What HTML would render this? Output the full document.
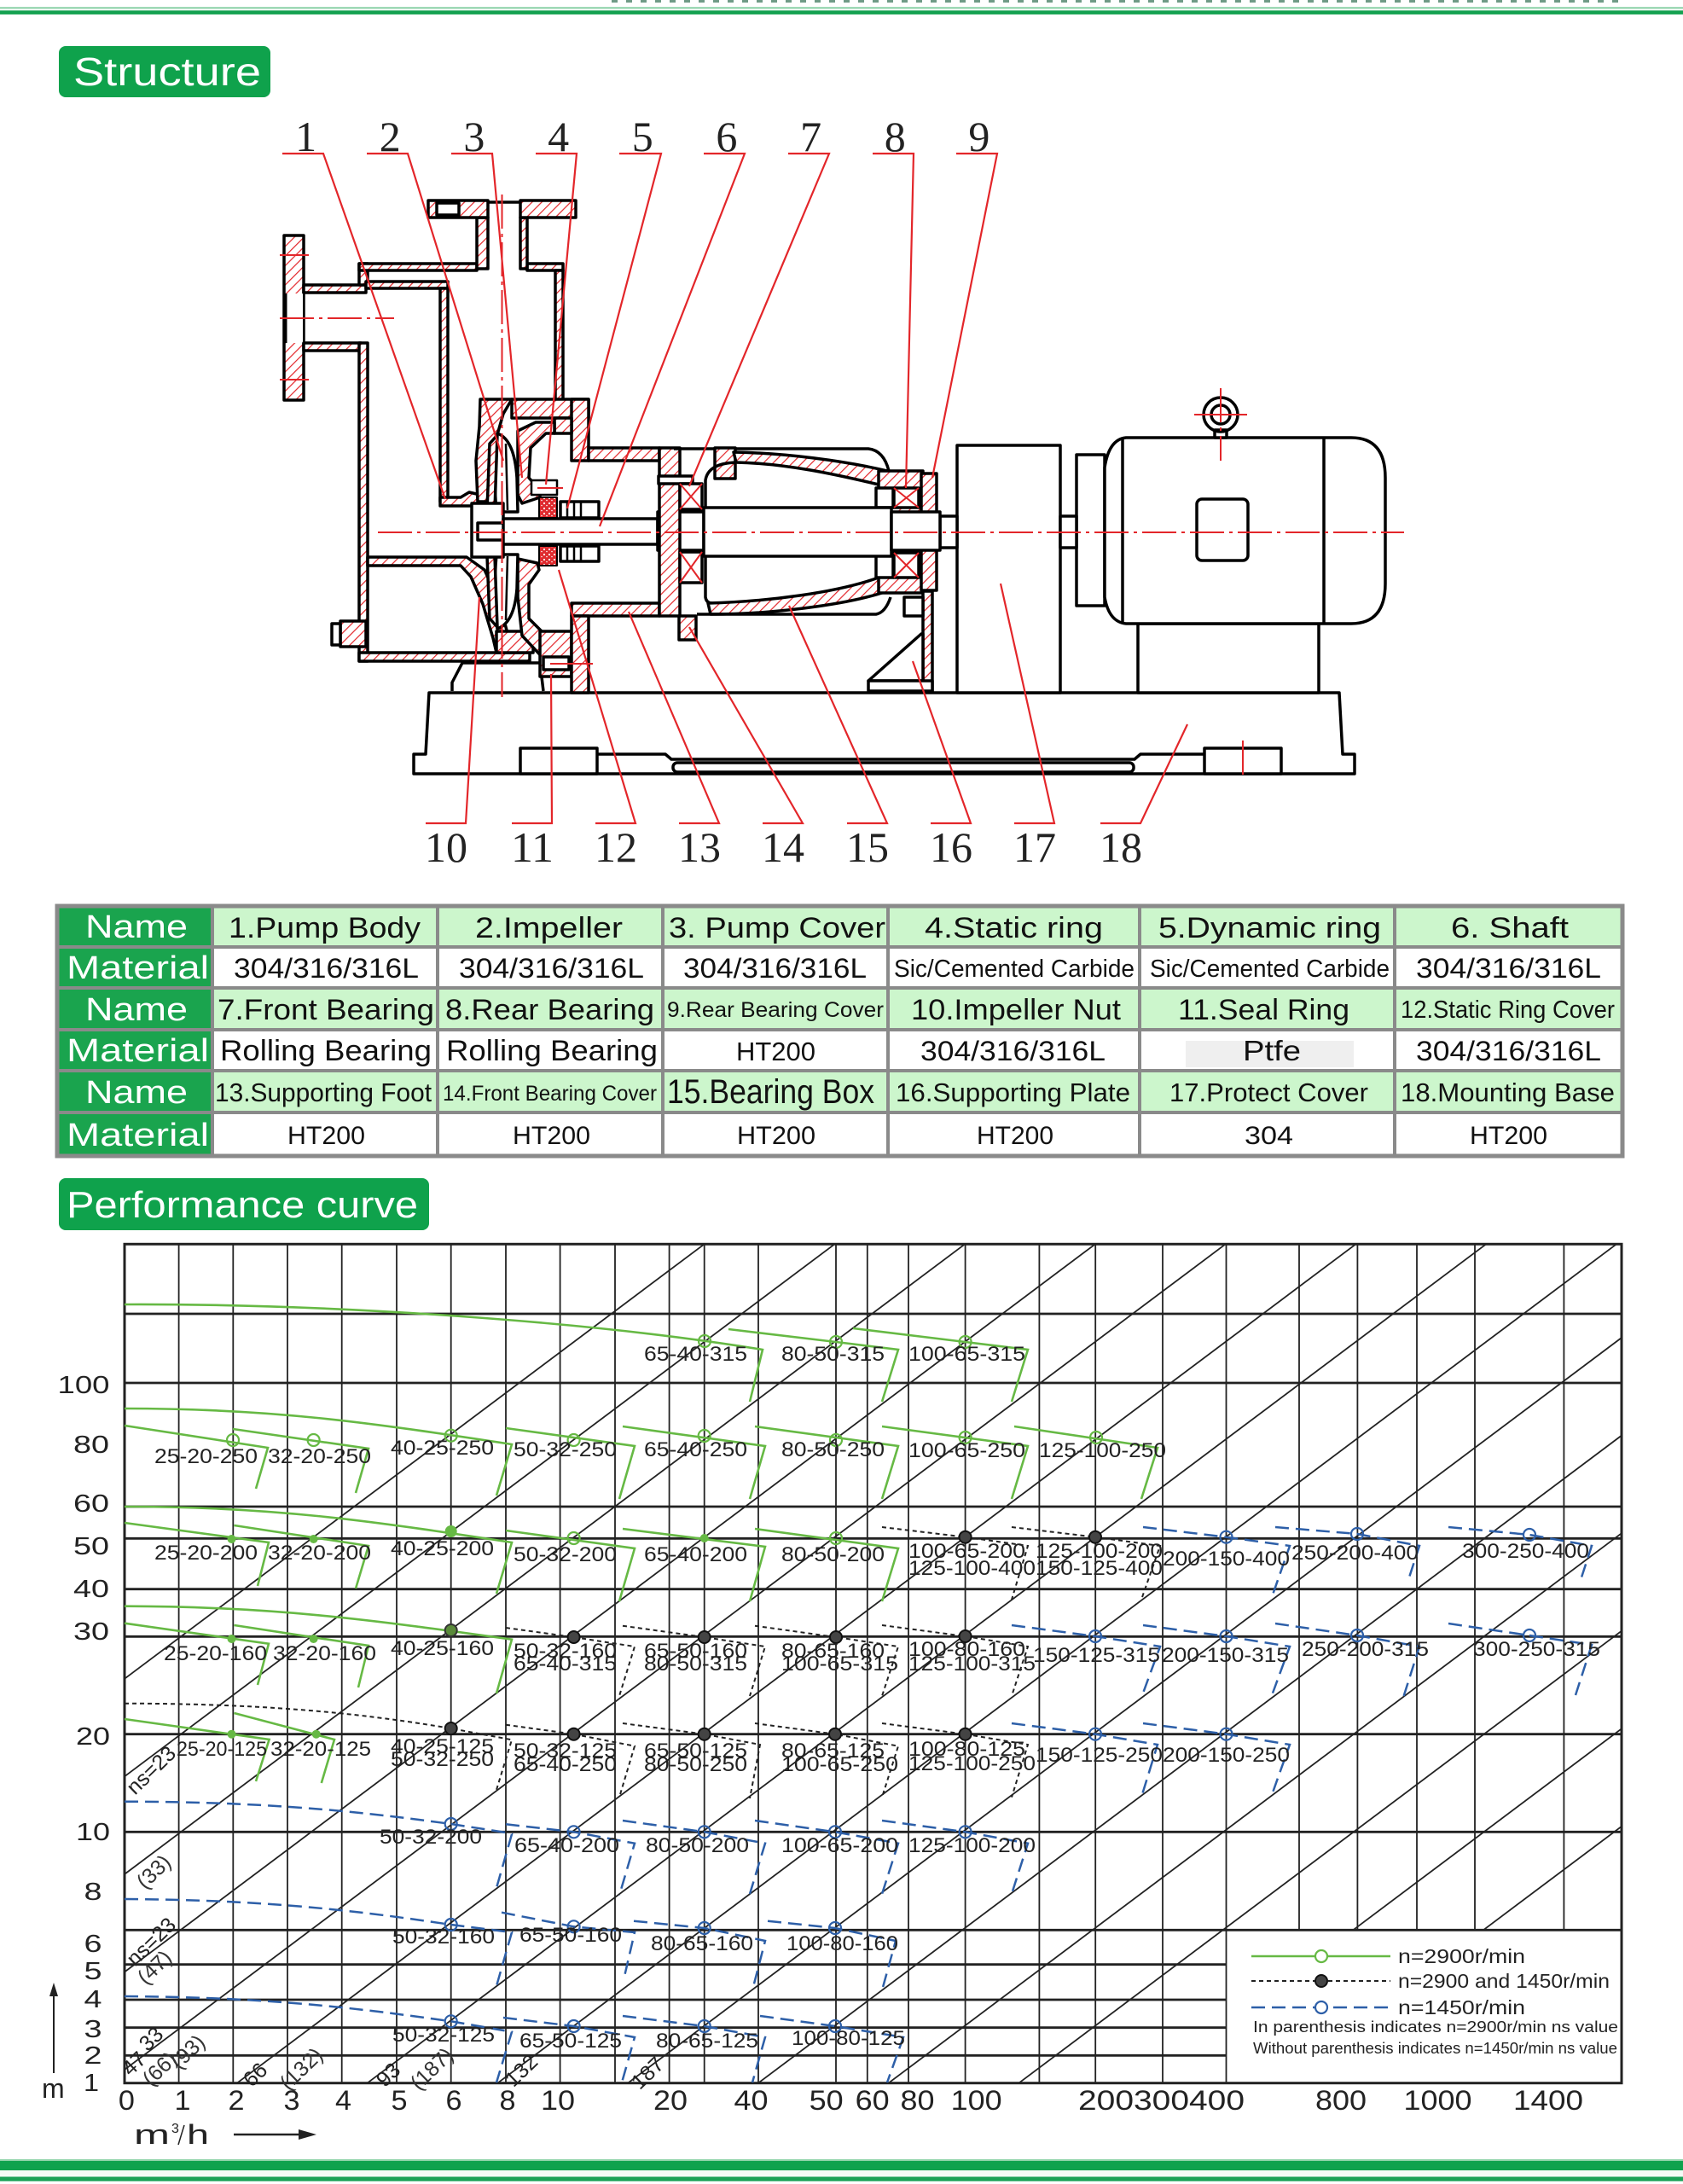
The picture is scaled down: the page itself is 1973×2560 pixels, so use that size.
<!DOCTYPE html>
<html><head><meta charset="utf-8"><title>Structure and Performance curve</title>
<style>
html,body{margin:0;padding:0;background:#fff;}
svg{display:block;}
.t{font-family:"Liberation Sans",Arial,sans-serif;}
.s{font-family:"Liberation Serif","Times New Roman",serif;}
</style></head>
<body>
<svg xmlns="http://www.w3.org/2000/svg" width="1973" height="2560" viewBox="0 0 1973 2560">
<defs>
<pattern id="hat" patternUnits="userSpaceOnUse" width="8" height="8" patternTransform="rotate(45)">
<rect width="8" height="8" fill="#fff"/><line x1="0" y1="0" x2="0" y2="8" stroke="#e3262a" stroke-width="2.4"/></pattern>
<pattern id="sp" patternUnits="userSpaceOnUse" width="6" height="6">
<rect width="6" height="6" fill="#de2a2e"/><circle cx="2" cy="2" r="1.1" fill="#fff"/><circle cx="5" cy="4.5" r="0.8" fill="#fff"/></pattern>
</defs>

<!-- header lines -->
<line x1="717" y1="1.5" x2="1906" y2="1.5" stroke="#6f9a86" stroke-width="3" stroke-dasharray="7 10"/>
<rect x="0" y="8" width="1973" height="2.6" fill="#9fd9b6"/>
<rect x="0" y="12.3" width="1973" height="4.6" fill="#13a150"/>

<!-- Structure label -->
<rect x="69" y="54" width="248" height="60" rx="8" fill="#0fa24c"/>
<text class="t" x="86" y="100" font-size="46" fill="#fff" textLength="220" lengthAdjust="spacingAndGlyphs">Structure</text>

<!-- ================= PUMP DRAWING ================= -->
<g stroke="#000" stroke-width="3.5" fill="none" stroke-linejoin="round">
<!-- base -->
<path d="M503 812 L1570 812 L1574 884 L1588 884 L1588 907 L485 907 L485 884 L499 884 Z" fill="#fff"/>
<rect x="610" y="877" width="90" height="30" fill="#fff"/>
<rect x="1412" y="877" width="90" height="30" fill="#fff"/>
<path d="M700 884 L780 884 L787 890 L1330 890 L1337 884 L1412 884"/>
<rect x="789" y="894" width="540" height="11" rx="5"/>
<!-- motor foot -->
<rect x="1334" y="731" width="212" height="81" fill="#fff"/>
<!-- motor -->
<rect x="1262" y="533" width="33" height="177" fill="#fff"/>
<path d="M1295 548 Q1300 515 1320 513 L1584 513 Q1624 513 1624 560 L1624 684 Q1624 731 1584 731 L1320 731 Q1300 729 1295 700 Z" fill="#fff"/>
<line x1="1316" y1="513" x2="1316" y2="731"/>
<line x1="1552" y1="513" x2="1552" y2="731"/>
<rect x="1403" y="585" width="60" height="72" rx="6"/>
<rect x="1424" y="504" width="14" height="9" fill="#fff"/>
<circle cx="1431" cy="486" r="20"/>
<circle cx="1431" cy="486" r="11"/>
<!-- protect cover -->
<rect x="1122" y="522" width="121" height="290" fill="#fff"/>
<rect x="1243" y="605" width="19" height="37" fill="#fff"/>
<rect x="1102" y="605" width="20" height="37" fill="#fff"/>

<!-- inlet flange -->
<rect x="333" y="276" width="23" height="193" fill="url(#hat)"/>
<rect x="335" y="344" width="20" height="58" fill="#fff" stroke="none"/>
<line x1="334" y1="344" x2="334" y2="402" stroke-width="5"/>
<!-- inlet pipe walls -->
<rect x="356" y="334" width="73" height="9" fill="url(#hat)"/>
<rect x="356" y="402" width="67" height="9" fill="url(#hat)"/>
<!-- casing walls -->
<rect x="421" y="309" width="10" height="25" fill="url(#hat)"/>
<rect x="421" y="402" width="10" height="373" fill="url(#hat)"/>
<rect x="421" y="309" width="138" height="8" fill="url(#hat)"/>
<rect x="618" y="309" width="42" height="8" fill="url(#hat)"/>
<rect x="651" y="317" width="9" height="152" fill="url(#hat)"/>
<!-- discharge -->
<rect x="559" y="255" width="13" height="60" fill="url(#hat)"/>
<rect x="610" y="255" width="8" height="60" fill="url(#hat)"/>
<rect x="502" y="235" width="70" height="20" fill="url(#hat)"/>
<rect x="610" y="235" width="65" height="20" fill="url(#hat)"/>
<rect x="512" y="238" width="26" height="14" fill="#fff"/>
<line x1="572" y1="237" x2="610" y2="237"/>
<!-- separator -->
<rect x="429" y="330" width="96" height="8" fill="url(#hat)"/>
<rect x="516" y="338" width="9" height="250" fill="url(#hat)"/>
<path d="M516 583 L540 583 L550 577 L563 580 L563 593 L516 593 Z" fill="url(#hat)"/>
<!-- lower chamber -->
<rect x="421" y="765" width="200" height="10" fill="url(#hat)"/>
<path d="M431 653 L547 653 L568 668 L585 705 L597 750 L600 765 L582 765 L578 748 L566 708 L552 676 L540 663 L431 663 Z" fill="url(#hat)"/>
<path d="M582 740 L625 740 L625 765 L582 765 Z" fill="url(#hat)"/>
<rect x="399" y="728" width="30" height="30" fill="url(#hat)"/>
<rect x="389" y="731" width="10" height="25" fill="#fff"/>
<!-- volute tongue & cover top -->
<path d="M563 468 L600 468 L590 485 L580 520 L575 560 L571 588 L560 588 L558 540 L562 500 Z" fill="url(#hat)"/>
<rect x="600" y="468" width="90" height="22" fill="url(#hat)"/>
<rect x="670" y="468" width="20" height="72" fill="url(#hat)"/>
<rect x="650" y="490" width="20" height="18" fill="url(#hat)"/>
<!-- pump cover (12) -->
<path d="M607 505 L628 495 L650 495 L650 508 L640 508 L622 525 L620 560 L633 575 L633 583 L612 590 L607 580 Z" fill="url(#hat)"/>
<path d="M607 655 L630 660 L632 668 L620 685 L620 725 L640 745 L665 748 L665 775 L640 775 L612 745 L607 700 Z" fill="url(#hat)"/>
<!-- impeller -->
<path d="M583 508 Q603 515 606 560 L607 600 L582 600 Q578 555 583 508 Z" fill="#fff"/>
<path d="M583 737 Q603 730 606 690 L607 650 L582 650 Q578 695 583 737 Z" fill="#fff"/>
<path d="M574 520 L583 510 L580 598 L571 598 Z" fill="url(#hat)"/>
<path d="M574 725 L583 735 L580 652 L571 652 Z" fill="url(#hat)"/>
<line x1="593" y1="520" x2="595" y2="598" stroke-width="2.5"/>
<line x1="593" y1="727" x2="595" y2="652" stroke-width="2.5"/>
<!-- hub, nut, shaft -->
<rect x="553" y="590" width="37" height="63" fill="#fff"/>
<rect x="560" y="613" width="33" height="20" fill="#fff"/>
<rect x="590" y="608" width="181" height="30" fill="#fff"/>
<rect x="771" y="600" width="54" height="45" fill="#fff"/>
<!-- seals -->
<rect x="623" y="563" width="30" height="17" fill="#fff" stroke-width="2.5"/>
<rect x="632" y="583" width="21" height="24" fill="url(#sp)" stroke-width="2"/>
<rect x="632" y="640" width="21" height="23" fill="url(#sp)" stroke-width="2"/>
<rect x="657" y="588" width="45" height="19" fill="#fff"/>
<rect x="657" y="640" width="45" height="18" fill="#fff"/>
<path d="M665 588 V607 M673 588 V607 M681 588 V607 M665 640 V658 M673 640 V658 M681 640 V658" stroke-width="2.5"/>
<!-- pump foot -->
<path d="M530 810 L530 800 L542 777 L633 777 L637 810" fill="#fff"/>
<rect x="633" y="740" width="37" height="53" fill="url(#hat)"/>
<rect x="637" y="770" width="30" height="15" fill="#fff"/>
<!-- bracket -->
<rect x="690" y="525" width="83" height="15" fill="url(#hat)"/>
<rect x="670" y="707" width="103" height="15" fill="url(#hat)"/>
<rect x="670" y="722" width="20" height="90" fill="url(#hat)"/>
<rect x="773" y="525" width="24" height="197" fill="url(#hat)"/>
<rect x="772" y="558" width="40" height="9" fill="#fff"/>
<rect x="796" y="722" width="20" height="28" fill="url(#hat)"/>
<!-- bearing box -->
<path d="M790 526 L1018 526 Q1036 528 1042 552"/>
<rect x="838" y="525" width="24" height="36" fill="url(#hat)"/>
<path d="M860 530 C920 531 990 540 1040 552 L1030 568 C980 556 920 543 863 542 Z" fill="url(#hat)"/>
<path d="M863 542 Q830 543 827 563 L827 700 Q828 707 835 707"/>
<path d="M830 707 C900 705 980 695 1030 677 L1040 693 C990 710 900 720 833 720 Z" fill="url(#hat)"/>
<path d="M817 720 L1027 720 Q1038 718 1044 700"/>
<rect x="1030" y="552" width="52" height="143" fill="url(#hat)"/>
<rect x="1080" y="555" width="18" height="137" fill="url(#hat)"/>
<rect x="1027" y="572" width="20" height="23" fill="#fff"/>
<rect x="1027" y="648" width="20" height="29" fill="#fff"/>
<rect x="1048" y="572" width="29" height="23" fill="#fff"/>
<rect x="1048" y="648" width="29" height="29" fill="#fff"/>
<rect x="797" y="567" width="26" height="30" fill="#fff"/>
<rect x="797" y="647" width="26" height="36" fill="#fff"/>
<rect x="825" y="595" width="220" height="57" fill="#fff"/>
<rect x="1045" y="600" width="57" height="45" fill="#fff"/>
<!-- support plate -->
<rect x="1082" y="693" width="11" height="117" fill="url(#hat)"/>
<path d="M1018 798 L1080 743 L1082 743 L1082 798 Z" fill="#fff"/>
<rect x="1018" y="798" width="75" height="12" fill="#fff"/>
<rect x="1060" y="700" width="22" height="22" fill="#fff"/>
</g>
<!-- bearing X marks -->
<g stroke="#e3262a" stroke-width="2">
<path d="M1048 572 L1077 595 M1077 572 L1048 595 M1048 648 L1077 677 M1077 648 L1048 677"/>
<path d="M797 567 L823 597 M823 567 L797 597 M797 647 L823 683 M823 647 L797 683"/>
<path d="M328 299 H362 M328 445 H362 M1400 486 H1462 M630 572 H660 M645 778 H695"/>
</g>
<!-- centerlines -->
<g stroke="#e3262a" stroke-width="2" stroke-dasharray="40 6 4 6" fill="none">
<line x1="443" y1="624" x2="1646" y2="624"/>
<line x1="328" y1="373" x2="462" y2="373"/>
<line x1="588.5" y1="228" x2="588.5" y2="817"/>
<line x1="1431" y1="455" x2="1431" y2="540"/>
<line x1="1457" y1="868" x2="1457" y2="910"/>
</g>
<!-- leaders -->
<g stroke="#e3262a" stroke-width="2.2" fill="none">
<path d="M331 180 H379 L522 585"/>
<path d="M430 180 H478 L590 540"/>
<path d="M529 180 H577 L612 560"/>
<path d="M628 180 H676 L640 568"/>
<path d="M726 180 H775 L665 596"/>
<path d="M825 180 H873 L703 617"/>
<path d="M924 180 H972 L808 570"/>
<path d="M1023 180 H1071 L1062 572"/>
<path d="M1121 180 H1169 L1093 560"/>
<path d="M499 965 H546 L562 700"/>
<path d="M600 965 H647 L646 790"/>
<path d="M698 965 H745 L655 668"/>
<path d="M796 965 H843 L737 717"/>
<path d="M894 965 H941 L808 735"/>
<path d="M993 965 H1040 L925 710"/>
<path d="M1091 965 H1138 L1070 775"/>
<path d="M1189 965 H1236 L1173 684"/>
<path d="M1290 965 H1337 L1392 849"/>
</g>
<g class="s" font-size="50" fill="#222" text-anchor="middle">
<text x="358.6" y="177" textLength="25" lengthAdjust="spacingAndGlyphs">1</text>
<text x="457.3" y="177" textLength="25" lengthAdjust="spacingAndGlyphs">2</text>
<text x="555.9" y="177" textLength="25" lengthAdjust="spacingAndGlyphs">3</text>
<text x="654.6" y="177" textLength="25" lengthAdjust="spacingAndGlyphs">4</text>
<text x="753.2" y="177" textLength="25" lengthAdjust="spacingAndGlyphs">5</text>
<text x="851.9" y="177" textLength="25" lengthAdjust="spacingAndGlyphs">6</text>
<text x="950.6" y="177" textLength="25" lengthAdjust="spacingAndGlyphs">7</text>
<text x="1049.2" y="177" textLength="25" lengthAdjust="spacingAndGlyphs">8</text>
<text x="1147.9" y="177" textLength="25" lengthAdjust="spacingAndGlyphs">9</text>
<text x="523" y="1010" textLength="50" lengthAdjust="spacingAndGlyphs">10</text>
<text x="624" y="1010" textLength="50" lengthAdjust="spacingAndGlyphs">11</text>
<text x="722" y="1010" textLength="50" lengthAdjust="spacingAndGlyphs">12</text>
<text x="820" y="1010" textLength="50" lengthAdjust="spacingAndGlyphs">13</text>
<text x="918" y="1010" textLength="50" lengthAdjust="spacingAndGlyphs">14</text>
<text x="1017" y="1010" textLength="50" lengthAdjust="spacingAndGlyphs">15</text>
<text x="1115" y="1010" textLength="50" lengthAdjust="spacingAndGlyphs">16</text>
<text x="1213" y="1010" textLength="50" lengthAdjust="spacingAndGlyphs">17</text>
<text x="1314" y="1010" textLength="50" lengthAdjust="spacingAndGlyphs">18</text>
</g>

<!-- ================= TABLE ================= -->
<g>
<rect x="67" y="1062" width="182" height="293" fill="#1aa44e"/>
<rect x="249" y="1062" width="1653" height="48" fill="#ccf6cc"/>
<rect x="249" y="1110" width="1653" height="48" fill="#fff"/>
<rect x="249" y="1158" width="1653" height="49" fill="#ccf6cc"/>
<rect x="249" y="1207" width="1653" height="48" fill="#fff"/>
<rect x="249" y="1255" width="1653" height="49" fill="#ccf6cc"/>
<rect x="249" y="1304" width="1653" height="51" fill="#fff"/>
<rect x="1390" y="1220" width="197" height="31" fill="#efefef"/>
<g stroke="#8a8a8a" stroke-width="4">
<line x1="67" y1="1110" x2="1902" y2="1110"/>
<line x1="67" y1="1158" x2="1902" y2="1158"/>
<line x1="67" y1="1207" x2="1902" y2="1207"/>
<line x1="67" y1="1255" x2="1902" y2="1255"/>
<line x1="67" y1="1304" x2="1902" y2="1304"/>
<line x1="249" y1="1062" x2="249" y2="1355"/>
<line x1="513" y1="1062" x2="513" y2="1355"/>
<line x1="777" y1="1062" x2="777" y2="1355"/>
<line x1="1041" y1="1062" x2="1041" y2="1355"/>
<line x1="1336" y1="1062" x2="1336" y2="1355"/>
<line x1="1635" y1="1062" x2="1635" y2="1355"/>
<rect x="67" y="1062" width="1835" height="293" fill="none" stroke-width="5"/>
</g>
<g class="t" fill="#fff" font-size="38">
<text x="100" y="1099" textLength="120" lengthAdjust="spacingAndGlyphs">Name</text>
<text x="78" y="1147" textLength="167" lengthAdjust="spacingAndGlyphs">Material</text>
<text x="100" y="1196" textLength="120" lengthAdjust="spacingAndGlyphs">Name</text>
<text x="78" y="1244" textLength="167" lengthAdjust="spacingAndGlyphs">Material</text>
<text x="100" y="1293" textLength="120" lengthAdjust="spacingAndGlyphs">Name</text>
<text x="78" y="1343" textLength="167" lengthAdjust="spacingAndGlyphs">Material</text>
</g>
<g class="t" fill="#111">
<text x="268" y="1099" font-size="34" textLength="225" lengthAdjust="spacingAndGlyphs">1.Pump Body</text>
<text x="557" y="1099" font-size="34" textLength="173" lengthAdjust="spacingAndGlyphs">2.Impeller</text>
<text x="784" y="1099" font-size="34" textLength="254" lengthAdjust="spacingAndGlyphs">3. Pump Cover</text>
<text x="1084" y="1099" font-size="34" textLength="209" lengthAdjust="spacingAndGlyphs">4.Static ring</text>
<text x="1358" y="1099" font-size="34" textLength="261" lengthAdjust="spacingAndGlyphs">5.Dynamic ring</text>
<text x="1701" y="1099" font-size="34" textLength="138" lengthAdjust="spacingAndGlyphs">6. Shaft</text>

<text x="274" y="1146" font-size="32" textLength="217" lengthAdjust="spacingAndGlyphs">304/316/316L</text>
<text x="538" y="1146" font-size="32" textLength="217" lengthAdjust="spacingAndGlyphs">304/316/316L</text>
<text x="801" y="1146" font-size="32" textLength="215" lengthAdjust="spacingAndGlyphs">304/316/316L</text>
<text x="1048" y="1145" font-size="29" textLength="282" lengthAdjust="spacingAndGlyphs">Sic/Cemented Carbide</text>
<text x="1348" y="1145" font-size="29" textLength="281" lengthAdjust="spacingAndGlyphs">Sic/Cemented Carbide</text>
<text x="1660" y="1146" font-size="32" textLength="217" lengthAdjust="spacingAndGlyphs">304/316/316L</text>

<text x="255" y="1195" font-size="34" textLength="254" lengthAdjust="spacingAndGlyphs">7.Front Bearing</text>
<text x="522" y="1195" font-size="34" textLength="245" lengthAdjust="spacingAndGlyphs">8.Rear Bearing</text>
<text x="782" y="1192" font-size="25" textLength="254" lengthAdjust="spacingAndGlyphs">9.Rear Bearing Cover</text>
<text x="1068" y="1195" font-size="34" textLength="246" lengthAdjust="spacingAndGlyphs">10.Impeller Nut</text>
<text x="1381" y="1195" font-size="34" textLength="201" lengthAdjust="spacingAndGlyphs">11.Seal Ring</text>
<text x="1642" y="1193" font-size="29" textLength="251" lengthAdjust="spacingAndGlyphs">12.Static Ring Cover</text>

<text x="258" y="1243" font-size="34" textLength="248" lengthAdjust="spacingAndGlyphs">Rolling Bearing</text>
<text x="523" y="1243" font-size="34" textLength="248" lengthAdjust="spacingAndGlyphs">Rolling Bearing</text>
<text x="863" y="1243" font-size="31" textLength="93" lengthAdjust="spacingAndGlyphs">HT200</text>
<text x="1079" y="1243" font-size="32" textLength="217" lengthAdjust="spacingAndGlyphs">304/316/316L</text>
<text x="1457" y="1243" font-size="33" textLength="68" lengthAdjust="spacingAndGlyphs">Ptfe</text>
<text x="1660" y="1243" font-size="32" textLength="217" lengthAdjust="spacingAndGlyphs">304/316/316L</text>

<text x="252" y="1291" font-size="31" textLength="254" lengthAdjust="spacingAndGlyphs">13.Supporting Foot</text>
<text x="519" y="1290" font-size="25" textLength="251" lengthAdjust="spacingAndGlyphs">14.Front Bearing Cover</text>
<text x="782" y="1293" font-size="40" textLength="243" lengthAdjust="spacingAndGlyphs">15.Bearing Box</text>
<text x="1050" y="1291" font-size="31" textLength="275" lengthAdjust="spacingAndGlyphs">16.Supporting Plate</text>
<text x="1371" y="1291" font-size="31" textLength="233" lengthAdjust="spacingAndGlyphs">17.Protect Cover</text>
<text x="1642" y="1291" font-size="31" textLength="251" lengthAdjust="spacingAndGlyphs">18.Mounting Base</text>

<text x="337" y="1341" font-size="30" textLength="91" lengthAdjust="spacingAndGlyphs">HT200</text>
<text x="601" y="1341" font-size="30" textLength="91" lengthAdjust="spacingAndGlyphs">HT200</text>
<text x="864" y="1341" font-size="30" textLength="92" lengthAdjust="spacingAndGlyphs">HT200</text>
<text x="1145" y="1341" font-size="30" textLength="90" lengthAdjust="spacingAndGlyphs">HT200</text>
<text x="1459" y="1341" font-size="30" textLength="57" lengthAdjust="spacingAndGlyphs">304</text>
<text x="1723" y="1341" font-size="30" textLength="91" lengthAdjust="spacingAndGlyphs">HT200</text>
</g>
</g>

<!-- Performance curve label -->
<rect x="69" y="1381" width="434" height="61" rx="8" fill="#0fa24c"/>
<text class="t" x="78" y="1427" font-size="44" fill="#fff" textLength="412" lengthAdjust="spacingAndGlyphs">Performance curve</text>

<!-- ================= CHART ================= -->
<g stroke="#222" fill="none">
<g stroke-width="1.8">
<path d="M209.6 1458 V2442 M273.3 1458 V2442 M337 1458 V2442 M400.7 1458 V2442 M465 1458 V2442 M528.7 1458 V2442 M593 1458 V2442 M656.6 1458 V2442 M721 1458 V2442 M784.6 1458 V2442 M825.7 1458 V2442 M889 1458 V2442 M980 1458 V2442 M1016.8 1458 V2442 M1065 1458 V2442 M1131.6 1458 V2442 M1218.4 1458 V2442 M1284.2 1458 V2442 M1363 1458 V2442 M1437.5 1458 V2442"/>
<path d="M1523 1458 V2262 M1591.4 1458 V2262 M1661 1458 V2262 M1729 1458 V2262 M1833.4 1458 V2262"/>
</g>
<g stroke-width="2.8">
<path d="M146 1540 H1901 M146 1621 H1901 M146 1766 H1901 M146 1803.3 H1901 M146 1862.7 H1901 M146 1918.3 H1901 M146 2032.7 H1901 M146 2147.3 H1901 M146 2262.3 H1901"/>
<path d="M146 2302.7 H1437.5 M146 2344 H1437.5 M146 2376.7 H1437.5 M146 2409.3 H1437.5"/>
</g>
<g stroke-width="1.8">
<line x1="825.7" y1="1458.3" x2="146" y2="1967.8"/>
<line x1="978.5" y1="1458.3" x2="146" y2="2082.3"/>
<line x1="1131.2" y1="1458.3" x2="146" y2="2196.9"/>
<line x1="1284" y1="1458.3" x2="146" y2="2311.5"/>
<line x1="1436.7" y1="1458.3" x2="146" y2="2426"/>
<line x1="1589.5" y1="1458.3" x2="277.9" y2="2441.7"/>
<line x1="1742.2" y1="1458.3" x2="430.6" y2="2441.7"/>
<line x1="1895" y1="1458.3" x2="583.4" y2="2441.7"/>
<line x1="1901" y1="1568" x2="736.1" y2="2441.7"/>
<line x1="1901" y1="1682.6" x2="888.9" y2="2441.7"/>
<line x1="1901" y1="1797.2" x2="1041.6" y2="2441.7"/>
<line x1="1901" y1="1911.7" x2="1194.4" y2="2441.7"/>
<line x1="1901" y1="2026.3" x2="1586.3" y2="2262.3"/>
<line x1="1901" y1="2140.8" x2="1739" y2="2262.3"/>
</g>
<rect x="146" y="1458.3" width="1755" height="983.4" stroke-width="3"/>
</g>

<!-- green curves -->
<g stroke="#66b944" stroke-width="2.6" fill="none">
<path d="M146 1529 C400 1528 700 1550 894 1582 L879 1643"/>
<path d="M854 1558 L980 1573 L1053 1582 L1034 1643"/>
<path d="M1000 1557 L1131.6 1573 L1205 1582 L1186 1643"/>
<path d="M146 1651 C320 1651 430 1667 600 1693 L582 1753"/>
<path d="M146 1671 L314 1697 L300 1745"/>
<path d="M273 1675 L432 1698 L417 1750"/>
<path d="M593 1674 L744 1695 L726 1757"/>
<path d="M730 1672 L897 1695 L879 1757"/>
<path d="M885 1672 L1053 1695 L1034 1757"/>
<path d="M1034 1672 L1205 1695 L1186 1757"/>
<path d="M1189 1672 L1357 1697 L1338 1757"/>
<path d="M146 1766 C320 1766 430 1782 600 1808 L582 1868"/>
<path d="M146 1785 L315 1808 L302 1859"/>
<path d="M274.5 1788 L432 1812 L417 1862"/>
<path d="M593 1794 L744 1815 L726 1877"/>
<path d="M730 1792 L897 1813 L879 1877"/>
<path d="M885 1792 L1053 1815 L1034 1877"/>
<path d="M146 1882.7 C320 1883 430 1898 600 1921.7 L582 1985"/>
<path d="M146 1902.7 L315 1926.7 L302 1975"/>
<path d="M274.5 1905 L432 1929 L420 1978"/>
<path d="M146 2015 L315.6 2039 L300 2088"/>
<path d="M274.5 2008 L392 2039 L376.8 2090"/>
</g>
<g fill="none" stroke="#66b944" stroke-width="2.2">
<circle cx="826" cy="1572" r="7"/><circle cx="980" cy="1573" r="7"/><circle cx="1131.6" cy="1573" r="7"/>
<circle cx="528.7" cy="1682.7" r="7"/><circle cx="273" cy="1688" r="7"/><circle cx="367.6" cy="1688" r="7"/>
<circle cx="672.6" cy="1688" r="7"/><circle cx="825.7" cy="1683" r="7"/><circle cx="980" cy="1688" r="7"/>
<circle cx="1131.6" cy="1685" r="7"/><circle cx="1285" cy="1685" r="7"/>
<circle cx="672.6" cy="1803" r="7"/><circle cx="980" cy="1803" r="7"/>
</g>
<g fill="#66b944">
<circle cx="528.7" cy="1795" r="7"/><circle cx="271.5" cy="1804" r="5"/><circle cx="367.6" cy="1804" r="5"/>
<circle cx="825.7" cy="1803" r="5"/><circle cx="271.5" cy="1921" r="5"/><circle cx="367.6" cy="1921" r="5"/>
<circle cx="271.5" cy="2032.7" r="5"/><circle cx="370.7" cy="2032.7" r="5"/>
</g>
<circle cx="528.7" cy="1911" r="7" fill="#5a8a3a" stroke="#333" stroke-width="2"/>

<!-- black dotted curves -->
<g stroke="#222" stroke-width="2" stroke-dasharray="5 4" fill="none">
<path d="M1034 1790 L1131.6 1801.7 L1205 1812 L1186 1875"/>
<path d="M1186 1790 L1284 1801.7 L1360 1812 L1338 1875"/>
<path d="M593 1908 L672.6 1919 L744 1930 L726 1988"/>
<path d="M730 1905.7 L825.7 1919 L897 1930 L879 1988"/>
<path d="M885 1905.7 L980 1919 L1053 1930 L1034 1988"/>
<path d="M1034 1905 L1131.6 1918 L1205 1930 L1186 1988"/>
<path d="M146 1996.7 C330 1997 440 2011 528.7 2026 L600 2039.3 L582 2098"/>
<path d="M593 2021.7 L672.6 2032.7 L744 2046.7 L726 2106.7"/>
<path d="M730 2020 L825.7 2032.7 L891 2045 L879 2108"/>
<path d="M885 2020 L979 2032.7 L1053 2046.7 L1034 2106.7"/>
<path d="M1034 2020 L1131.6 2032.7 L1205 2045 L1186 2106.7"/>
</g>
<g fill="#444" stroke="#111" stroke-width="2">
<circle cx="1131.6" cy="1801.7" r="7"/><circle cx="1284" cy="1801.7" r="7"/>
<circle cx="672.6" cy="1919" r="7"/><circle cx="825.7" cy="1919" r="7"/><circle cx="980" cy="1919" r="7"/><circle cx="1131.6" cy="1918" r="7"/>
<circle cx="528.7" cy="2026" r="7"/><circle cx="672.6" cy="2032.7" r="7"/><circle cx="825.7" cy="2032.7" r="7"/><circle cx="979" cy="2032.7" r="7"/><circle cx="1131.6" cy="2032.7" r="7"/>
</g>

<!-- blue dashed curves -->
<g stroke="#2d5fa8" stroke-width="2.5" stroke-dasharray="16 8" fill="none">
<path d="M1340 1790 L1437.5 1801.7 L1512 1812 L1490 1875"/>
<path d="M1495 1790 L1591 1798 L1664 1812 L1651 1852"/>
<path d="M1698 1790 L1793 1799 L1866 1812 L1853 1852"/>
<path d="M1186 1905 L1284 1918 L1360 1930 L1338 1990"/>
<path d="M1340 1905 L1437.5 1918 L1512 1930 L1490 1990"/>
<path d="M1495 1903 L1591 1917 L1664 1930 L1645 1990"/>
<path d="M1698 1903 L1793 1917 L1866 1928 L1847 1987"/>
<path d="M1186 2020 L1284 2032.7 L1357 2045 L1338 2106.7"/>
<path d="M1340 2020 L1437.5 2032.7 L1512 2045 L1490 2106.7"/>
<path d="M146 2111.7 C330 2112 440 2126 528.7 2138 L593 2148 L600 2150 L582 2213"/>
<path d="M593 2138.3 L672.6 2147.3 L744 2160.7 L726 2221.7"/>
<path d="M730 2134 L825.7 2147.3 L897 2160.7 L879 2220"/>
<path d="M885 2134 L979 2147.3 L1053 2160.7 L1034 2220"/>
<path d="M1034 2134 L1131.6 2147.3 L1205 2160.7 L1186 2220"/>
<path d="M146 2226 C330 2227 440 2243 528.7 2256 L600 2265 L582 2328"/>
<path d="M588 2241.7 L672.6 2258.3 L744 2265 L732 2316.7"/>
<path d="M743 2251.7 L825.7 2260 L897 2275 L882 2333"/>
<path d="M900 2251.7 L979 2260 L1050 2275 L1034 2333"/>
<path d="M146 2340 C330 2341 440 2357 528.7 2369.3 L600 2381.7 L582 2441"/>
<path d="M590 2365 L672.6 2375 L744 2388 L729 2441"/>
<path d="M730 2363 L825.7 2375 L897 2388 L882 2441"/>
<path d="M891 2363 L979 2375 L1059 2388 L1040 2441"/>
</g>
<g fill="none" stroke="#2d5fa8" stroke-width="2.2">
<circle cx="1437.5" cy="1801.7" r="7"/><circle cx="1591" cy="1798" r="7"/><circle cx="1793" cy="1799" r="7"/>
<circle cx="1284" cy="1918" r="7"/><circle cx="1437.5" cy="1918" r="7"/><circle cx="1591" cy="1917" r="7"/><circle cx="1793" cy="1917" r="7"/>
<circle cx="1284" cy="2032.7" r="7"/><circle cx="1437.5" cy="2032.7" r="7"/>
<circle cx="528.7" cy="2138" r="7"/><circle cx="672.6" cy="2147.3" r="7"/><circle cx="825.7" cy="2147.3" r="7"/><circle cx="979" cy="2147.3" r="7"/><circle cx="1131.6" cy="2147.3" r="7"/>
<circle cx="528.7" cy="2256" r="7"/><circle cx="672.6" cy="2258.3" r="7"/><circle cx="825.7" cy="2260" r="7"/><circle cx="979" cy="2260" r="7"/>
<circle cx="528.7" cy="2369.3" r="7"/><circle cx="672.6" cy="2375" r="7"/><circle cx="825.7" cy="2375" r="7"/><circle cx="979" cy="2375" r="7"/>
</g>

<!-- curve labels -->
<g class="t" font-size="24" fill="#222">
<text x="755" y="1595" textLength="121" lengthAdjust="spacingAndGlyphs">65-40-315</text>
<text x="916" y="1595" textLength="121" lengthAdjust="spacingAndGlyphs">80-50-315</text>
<text x="1065" y="1595" textLength="137" lengthAdjust="spacingAndGlyphs">100-65-315</text>

<text x="181" y="1715" textLength="121" lengthAdjust="spacingAndGlyphs">25-20-250</text>
<text x="314" y="1715" textLength="121" lengthAdjust="spacingAndGlyphs">32-20-250</text>
<text x="458" y="1705" textLength="121" lengthAdjust="spacingAndGlyphs">40-25-250</text>
<text x="602" y="1707" textLength="121" lengthAdjust="spacingAndGlyphs">50-32-250</text>
<text x="755" y="1707" textLength="121" lengthAdjust="spacingAndGlyphs">65-40-250</text>
<text x="916" y="1707" textLength="121" lengthAdjust="spacingAndGlyphs">80-50-250</text>
<text x="1065" y="1708" textLength="137" lengthAdjust="spacingAndGlyphs">100-65-250</text>
<text x="1218" y="1708" textLength="149" lengthAdjust="spacingAndGlyphs">125-100-250</text>

<text x="181" y="1828" textLength="121" lengthAdjust="spacingAndGlyphs">25-20-200</text>
<text x="314" y="1828" textLength="121" lengthAdjust="spacingAndGlyphs">32-20-200</text>
<text x="458" y="1823" textLength="121" lengthAdjust="spacingAndGlyphs">40-25-200</text>
<text x="602" y="1830" textLength="121" lengthAdjust="spacingAndGlyphs">50-32-200</text>
<text x="755" y="1830" textLength="121" lengthAdjust="spacingAndGlyphs">65-40-200</text>
<text x="916" y="1830" textLength="121" lengthAdjust="spacingAndGlyphs">80-50-200</text>
<text x="1065" y="1826" textLength="137" lengthAdjust="spacingAndGlyphs">100-65-200</text>
<text x="1065" y="1846" textLength="149" lengthAdjust="spacingAndGlyphs">125-100-400</text>
<text x="1214" y="1826" textLength="149" lengthAdjust="spacingAndGlyphs">125-100-200</text>
<text x="1214" y="1846" textLength="149" lengthAdjust="spacingAndGlyphs">150-125-400</text>
<text x="1363" y="1835" textLength="149" lengthAdjust="spacingAndGlyphs">200-150-400</text>
<text x="1514" y="1828" textLength="149" lengthAdjust="spacingAndGlyphs">250-200-400</text>
<text x="1714" y="1826" textLength="149" lengthAdjust="spacingAndGlyphs">300-250-400</text>

<text x="192" y="1946" textLength="121" lengthAdjust="spacingAndGlyphs">25-20-160</text>
<text x="320" y="1946" textLength="121" lengthAdjust="spacingAndGlyphs">32-20-160</text>
<text x="458" y="1940" textLength="121" lengthAdjust="spacingAndGlyphs">40-25-160</text>
<text x="602" y="1943" textLength="121" lengthAdjust="spacingAndGlyphs">50-32-160</text>
<text x="602" y="1958" textLength="121" lengthAdjust="spacingAndGlyphs">65-40-315</text>
<text x="755" y="1943" textLength="121" lengthAdjust="spacingAndGlyphs">65-50-160</text>
<text x="755" y="1958" textLength="121" lengthAdjust="spacingAndGlyphs">80-50-315</text>
<text x="916" y="1943" textLength="121" lengthAdjust="spacingAndGlyphs">80-65-160</text>
<text x="916" y="1958" textLength="137" lengthAdjust="spacingAndGlyphs">100-65-315</text>
<text x="1065" y="1941" textLength="137" lengthAdjust="spacingAndGlyphs">100-80-160</text>
<text x="1065" y="1958" textLength="149" lengthAdjust="spacingAndGlyphs">125-100-315</text>
<text x="1211" y="1948" textLength="149" lengthAdjust="spacingAndGlyphs">150-125-315</text>
<text x="1362" y="1948" textLength="149" lengthAdjust="spacingAndGlyphs">200-150-315</text>
<text x="1526" y="1941" textLength="149" lengthAdjust="spacingAndGlyphs">250-200-315</text>
<text x="1727" y="1941" textLength="149" lengthAdjust="spacingAndGlyphs">300-250-315</text>

<text x="207" y="2058" textLength="106" lengthAdjust="spacingAndGlyphs">25-20-125</text>
<text x="317" y="2058" textLength="118" lengthAdjust="spacingAndGlyphs">32-20-125</text>
<text x="458" y="2055" textLength="121" lengthAdjust="spacingAndGlyphs">40-25-125</text>
<text x="458" y="2070" textLength="121" lengthAdjust="spacingAndGlyphs">50-32-250</text>
<text x="602" y="2060" textLength="121" lengthAdjust="spacingAndGlyphs">50-32-125</text>
<text x="602" y="2076" textLength="121" lengthAdjust="spacingAndGlyphs">65-40-250</text>
<text x="755" y="2060" textLength="121" lengthAdjust="spacingAndGlyphs">65-50-125</text>
<text x="755" y="2076" textLength="121" lengthAdjust="spacingAndGlyphs">80-50-250</text>
<text x="916" y="2060" textLength="121" lengthAdjust="spacingAndGlyphs">80-65-125</text>
<text x="916" y="2076" textLength="137" lengthAdjust="spacingAndGlyphs">100-65-250</text>
<text x="1065" y="2058" textLength="137" lengthAdjust="spacingAndGlyphs">100-80-125</text>
<text x="1065" y="2075" textLength="149" lengthAdjust="spacingAndGlyphs">125-100-250</text>
<text x="1214" y="2065" textLength="149" lengthAdjust="spacingAndGlyphs">150-125-250</text>
<text x="1363" y="2065" textLength="149" lengthAdjust="spacingAndGlyphs">200-150-250</text>

<text x="445" y="2161" textLength="120" lengthAdjust="spacingAndGlyphs">50-32-200</text>
<text x="603" y="2171" textLength="123" lengthAdjust="spacingAndGlyphs">65-40-200</text>
<text x="757" y="2171" textLength="121" lengthAdjust="spacingAndGlyphs">80-50-200</text>
<text x="916" y="2171" textLength="137" lengthAdjust="spacingAndGlyphs">100-65-200</text>
<text x="1065" y="2171" textLength="149" lengthAdjust="spacingAndGlyphs">125-100-200</text>

<text x="460" y="2278" textLength="120" lengthAdjust="spacingAndGlyphs">50-32-160</text>
<text x="609" y="2276" textLength="120" lengthAdjust="spacingAndGlyphs">65-50-160</text>
<text x="763" y="2286" textLength="120" lengthAdjust="spacingAndGlyphs">80-65-160</text>
<text x="922" y="2286" textLength="131" lengthAdjust="spacingAndGlyphs">100-80-160</text>

<text x="460" y="2393" textLength="120" lengthAdjust="spacingAndGlyphs">50-32-125</text>
<text x="609" y="2400" textLength="120" lengthAdjust="spacingAndGlyphs">65-50-125</text>
<text x="769" y="2400" textLength="120" lengthAdjust="spacingAndGlyphs">80-65-125</text>
<text x="928" y="2397" textLength="133" lengthAdjust="spacingAndGlyphs">100-80-125</text>
</g>

<!-- ns labels -->
<g class="t" font-size="25" fill="#222" text-anchor="middle">
<text transform="translate(183 2081) rotate(-44)">ns=23</text>
<text transform="translate(186 2200) rotate(-44)" fill="#333">(33)</text>
<text transform="translate(183 2282) rotate(-44)">ns=23</text>
<text transform="translate(187 2312) rotate(-44)" fill="#333">(47)</text>
<text transform="translate(183 2396) rotate(-44)">33</text>
<text transform="translate(163 2425) rotate(-44)">47</text>
<text transform="translate(193 2431) rotate(-44)" fill="#333">(66)</text>
<text transform="translate(226 2411) rotate(-44)" fill="#333">(93)</text>
<text transform="translate(305 2438) rotate(-44)">66</text>
<text transform="translate(359 2431) rotate(-44)" fill="#333">(132)</text>
<text transform="translate(461 2438) rotate(-44)">93</text>
<text transform="translate(512 2431) rotate(-44)" fill="#333">(187)</text>
<text transform="translate(617 2433) rotate(-44)">132</text>
<text transform="translate(765 2436) rotate(-44)">187</text>
</g>

<!-- legend -->
<g>
<line x1="1467" y1="2293" x2="1630" y2="2293" stroke="#66b944" stroke-width="2.6"/>
<circle cx="1549" cy="2293" r="7" fill="#fff" stroke="#66b944" stroke-width="2.2"/>
<line x1="1467" y1="2322" x2="1630" y2="2322" stroke="#222" stroke-width="2" stroke-dasharray="5 4"/>
<circle cx="1549" cy="2322" r="7" fill="#444" stroke="#111" stroke-width="2"/>
<line x1="1467" y1="2353" x2="1630" y2="2353" stroke="#2d5fa8" stroke-width="2.5" stroke-dasharray="16 8"/>
<circle cx="1549" cy="2353" r="7" fill="#fff" stroke="#2d5fa8" stroke-width="2.2"/>
<g class="t" fill="#222">
<text x="1639" y="2301" font-size="23" textLength="149" lengthAdjust="spacingAndGlyphs">n=2900r/min</text>
<text x="1639" y="2330" font-size="23" textLength="248" lengthAdjust="spacingAndGlyphs">n=2900 and 1450r/min</text>
<text x="1639" y="2361" font-size="23" textLength="149" lengthAdjust="spacingAndGlyphs">n=1450r/min</text>
<text x="1469" y="2382" font-size="18" textLength="428" lengthAdjust="spacingAndGlyphs">In parenthesis indicates  n=2900r/min  ns value</text>
<text x="1469" y="2407" font-size="18" textLength="427" lengthAdjust="spacingAndGlyphs">Without parenthesis indicates  n=1450r/min ns value</text>
</g>
</g>

<!-- axis labels -->
<g class="t" fill="#222" font-size="29" text-anchor="middle">
<text x="98" y="1633" textLength="61" lengthAdjust="spacingAndGlyphs">100</text>
<text x="107" y="1703" textLength="42" lengthAdjust="spacingAndGlyphs">80</text>
<text x="107" y="1772" textLength="42" lengthAdjust="spacingAndGlyphs">60</text>
<text x="107" y="1822" textLength="42" lengthAdjust="spacingAndGlyphs">50</text>
<text x="107" y="1872" textLength="42" lengthAdjust="spacingAndGlyphs">40</text>
<text x="107" y="1922" textLength="42" lengthAdjust="spacingAndGlyphs">30</text>
<text x="109" y="2045" textLength="40" lengthAdjust="spacingAndGlyphs">20</text>
<text x="109" y="2157" textLength="40" lengthAdjust="spacingAndGlyphs">10</text>
<text x="109" y="2227" textLength="21" lengthAdjust="spacingAndGlyphs">8</text>
<text x="109" y="2288" textLength="21" lengthAdjust="spacingAndGlyphs">6</text>
<text x="109" y="2320" textLength="21" lengthAdjust="spacingAndGlyphs">5</text>
<text x="109" y="2353" textLength="21" lengthAdjust="spacingAndGlyphs">4</text>
<text x="109" y="2388" textLength="21" lengthAdjust="spacingAndGlyphs">3</text>
<text x="109" y="2419" textLength="21" lengthAdjust="spacingAndGlyphs">2</text>
<text x="107" y="2451" textLength="18" lengthAdjust="spacingAndGlyphs">1</text>
</g>
<text class="t" x="49" y="2459" font-size="32" fill="#222">m</text>
<line x1="63" y1="2430" x2="63" y2="2336" stroke="#222" stroke-width="2"/>
<polygon points="63,2324 58,2340 68,2340" fill="#222"/>

<g class="t" fill="#222" font-size="32" text-anchor="middle">
<text x="148.4" y="2473" textLength="19" lengthAdjust="spacingAndGlyphs">0</text>
<text x="214" y="2473" textLength="19" lengthAdjust="spacingAndGlyphs">1</text>
<text x="277" y="2473" textLength="19" lengthAdjust="spacingAndGlyphs">2</text>
<text x="342" y="2473" textLength="19" lengthAdjust="spacingAndGlyphs">3</text>
<text x="402.5" y="2473" textLength="19" lengthAdjust="spacingAndGlyphs">4</text>
<text x="468" y="2473" textLength="19" lengthAdjust="spacingAndGlyphs">5</text>
<text x="532" y="2473" textLength="19" lengthAdjust="spacingAndGlyphs">6</text>
<text x="595" y="2473" textLength="19" lengthAdjust="spacingAndGlyphs">8</text>
<text x="654" y="2473" textLength="40" lengthAdjust="spacingAndGlyphs">10</text>
<text x="786" y="2473" textLength="40" lengthAdjust="spacingAndGlyphs">20</text>
<text x="880.5" y="2473" textLength="40" lengthAdjust="spacingAndGlyphs">40</text>
<text x="968.6" y="2473" textLength="40" lengthAdjust="spacingAndGlyphs">50</text>
<text x="1022.6" y="2473" textLength="40" lengthAdjust="spacingAndGlyphs">60</text>
<text x="1075.5" y="2473" textLength="40" lengthAdjust="spacingAndGlyphs">80</text>
<text x="1144.6" y="2473" textLength="60" lengthAdjust="spacingAndGlyphs">100</text>
<text x="1361.5" y="2473" textLength="195" lengthAdjust="spacingAndGlyphs">200300400</text>
<text x="1572" y="2473" textLength="60" lengthAdjust="spacingAndGlyphs">800</text>
<text x="1685.5" y="2473" textLength="80" lengthAdjust="spacingAndGlyphs">1000</text>
<text x="1815" y="2473" textLength="82" lengthAdjust="spacingAndGlyphs">1400</text>
</g>

<!-- m3/h -->
<g class="t" fill="#222">
<text x="157" y="2513" font-size="32" textLength="42" lengthAdjust="spacingAndGlyphs">m</text>
<text x="201" y="2500" font-size="16">3</text>
<line x1="209" y1="2514" x2="216" y2="2491" stroke="#222" stroke-width="1.5"/>
<text x="219" y="2513" font-size="32" textLength="26" lengthAdjust="spacingAndGlyphs">h</text>
</g>
<line x1="274" y1="2502" x2="352" y2="2502" stroke="#222" stroke-width="2.5"/>
<polygon points="371,2502 350,2496 350,2508" fill="#222"/>

<!-- bottom lines -->
<rect x="0" y="2531" width="1973" height="2" fill="#8fd3a8"/>
<rect x="0" y="2533" width="1973" height="11" fill="#0fa24d"/>
<rect x="0" y="2544" width="1973" height="7.5" fill="#f3fbf6"/>
<rect x="0" y="2551.5" width="1973" height="5.2" fill="#1aa257"/>
</svg>
</body></html>
